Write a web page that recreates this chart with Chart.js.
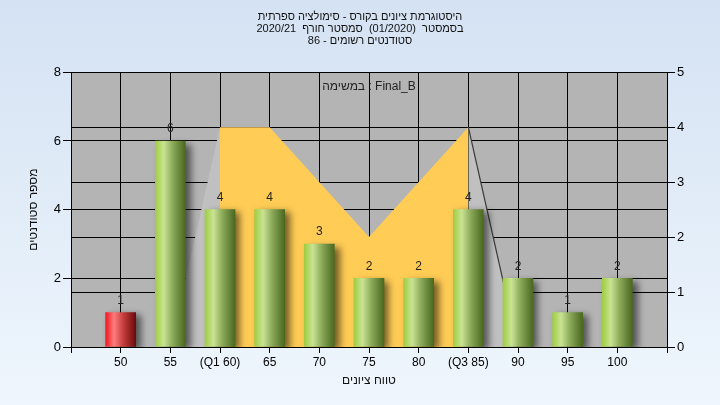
<!DOCTYPE html>
<html>
<head>
<meta charset="utf-8">
<script src="https://cdn.jsdelivr.net/npm/chart.js@4"></script>
<style>
    html, body { margin: 0; padding: 0; background: #e4eef9; }
    #wrap { width: 720px; height: 405px; }
</style>
</head>
<body>
<div id="wrap"><canvas id="mainChart" width="720" height="405"></canvas></div>
<script>
/**
 * Grade histogram - bars with quartile band behind them
 */

// score buckets and their tick labels
const scores = [50, 55, 60, 65, 70, 75, 80, 85, 90, 95, 100];
const scoreLabels = ['50', '55', '(Q1 60)', '65', '70', '75', '80', '(Q3 85)', '90', '95', '100'];

// number of students per bucket (left axis)
const studentCounts = [1, 6, 4, 4, 3, 2, 2, 4, 2, 1, 2];

// yellow band between Q1 and Q3 (right axis)
const bandScores = [60, 65, 75, 85];
const bandValues = [4, 4, 2, 4];

// light tails on both sides of the band (right axis)
const leftTailScores = [55, 60];
const leftTailValues = [0, 4];
const rightTailScores = [85, 90];
const rightTailValues = [4, 0];

const titleLines = [
    'היסטוגרמת ציונים בקורס - סימולציה ספרתית',
    'בסמסטר  (01/2020)  סמסטר חורף  2020/21',
    'סטודנטים רשומים - 86'
];
const taskCaption = 'במשימה : Final_B';
const xTitle = 'טווח ציונים';
const yTitle = 'מספר סטודנטים';

const FONT = "'Liberation Sans', Arial, sans-serif";

function barFill(context) {
    const chart = context.chart;
    if (!chart.chartArea || context.type !== 'data') return '#9c4';
    const x = chart.scales.x.getPixelForValue(context.raw.x);
    const g = chart.ctx.createLinearGradient(x - 15, 0, x + 15, 0);
    if (context.dataIndex === 0) {
        g.addColorStop(0, '#ee1a20');
        g.addColorStop(0.28, '#ff7c7c');
        g.addColorStop(0.6, '#c23a3a');
        g.addColorStop(1, '#6a0b0b');
    } else {
        g.addColorStop(0, '#9fcd42');
        g.addColorStop(0.28, '#c9e393');
        g.addColorStop(0.6, '#87a656');
        g.addColorStop(1, '#4a681f');
    }
    return g;
}

function toPoints(xs, ys) {
    return ys.map((v, i) => ({ x: xs[i], y: v }));
}

const backgroundPlugin = {
    id: 'background',
    beforeDraw(chart) {
        const { ctx, width, height, chartArea } = chart;
        ctx.save();
        const g = ctx.createLinearGradient(0, 0, 0, height);
        g.addColorStop(0, '#d4e2f3');
        g.addColorStop(1, '#eff6fd');
        ctx.fillStyle = g;
        ctx.fillRect(0, 0, width, height);
        ctx.fillStyle = '#b4b4b4';
        ctx.fillRect(chartArea.left, chartArea.top,
            chartArea.right - chartArea.left, chartArea.bottom - chartArea.top);
        ctx.restore();
    }
};

// soft drop shadow under the bars
const shadowPlugin = {
    id: 'barShadow',
    beforeDatasetDraw(chart, args) {
        if (args.index !== 0) return;
        const ctx = chart.ctx;
        ctx.save();
        ctx.shadowColor = 'rgba(0, 0, 0, 0.55)';
        ctx.shadowBlur = 7;
        ctx.shadowOffsetX = 5;
        ctx.shadowOffsetY = 3;
    },
    afterDatasetDraw(chart, args) {
        if (args.index !== 0) return;
        chart.ctx.restore();
    }
};

// value on top of each bar + task caption inside the plot
const labelsPlugin = {
    id: 'valueLabels',
    afterDatasetsDraw(chart) {
        const ctx = chart.ctx;
        const meta = chart.getDatasetMeta(0);
        ctx.save();
        ctx.font = '12px ' + FONT;
        ctx.fillStyle = '#222';
        ctx.textAlign = 'center';
        ctx.textBaseline = 'middle';
        meta.data.forEach((bar, i) => {
            ctx.fillText(String(studentCounts[i]), bar.x, bar.y - 12);
        });
        const area = chart.chartArea;
        ctx.fillText(taskCaption, (area.left + area.right) / 2, area.top + 14);
        ctx.restore();
    }
};

const ctx = document.getElementById('mainChart').getContext('2d');

new Chart(ctx, {
    type: 'bar',
    data: {
        datasets: [
            {
                type: 'bar',
                data: toPoints(scores, studentCounts),
                yAxisID: 'y',
                backgroundColor: barFill,
                borderWidth: 0,
                barThickness: 30,
                order: 0
            },
            {
                type: 'line',
                data: toPoints(bandScores, bandValues),
                yAxisID: 'y1',
                backgroundColor: '#ffcc55',
                borderWidth: 0,
                pointRadius: 0,
                fill: 'origin',
                tension: 0,
                order: 1
            },
            {
                type: 'line',
                data: toPoints(leftTailScores, leftTailValues),
                yAxisID: 'y1',
                backgroundColor: '#c0c0c0',
                borderWidth: 0,
                pointRadius: 0,
                fill: 'origin',
                tension: 0,
                order: 2
            },
            {
                type: 'line',
                data: toPoints(rightTailScores, rightTailValues),
                yAxisID: 'y1',
                backgroundColor: '#c0c0c0',
                borderColor: '#3a3a3a',
                borderWidth: 1.2,
                pointRadius: 0,
                fill: 'origin',
                tension: 0,
                order: 2
            }
        ]
    },
    options: {
        responsive: false,
        animation: false,
        devicePixelRatio: 1,
        layout: { padding: 0 },
        plugins: {
            legend: { display: false },
            tooltip: { enabled: false },
            title: {
                display: true,
                text: titleLines,
                color: '#111',
                font: { family: FONT, size: 11, weight: 'normal', lineHeight: 1.1 },
                padding: { top: 11, bottom: 25 }
            }
        },
        scales: {
            x: {
                type: 'linear',
                min: 45,
                max: 105,
                offset: false,
                afterFit: s => { s.height = 58; },
                ticks: {
                    stepSize: 5,
                    autoSkip: false,
                    maxRotation: 0,
                    padding: 2,
                    color: '#000',
                    font: { family: FONT, size: 12 },
                    callback: v => {
                        const i = scores.indexOf(v);
                        return i >= 0 ? scoreLabels[i] : '';
                    }
                },
                grid: { color: '#000', tickLength: 6, offset: false },
                border: { color: '#000' },
                title: {
                    display: true,
                    text: xTitle,
                    color: '#111',
                    font: { family: FONT, size: 12 },
                    padding: { top: 0, bottom: 17 }
                }
            },
            y: {
                position: 'left',
                min: 0,
                max: 8,
                afterFit: s => { s.width = 71; },
                ticks: {
                    stepSize: 2,
                    padding: 2,
                    color: '#000',
                    font: { family: FONT, size: 13 }
                },
                grid: { color: '#000', tickLength: 8 },
                border: { color: '#000' },
                title: {
                    display: true,
                    text: yTitle,
                    color: '#111',
                    font: { family: FONT, size: 12 },
                    padding: { top: 26, bottom: 0 }
                }
            },
            y1: {
                position: 'right',
                min: 0,
                max: 5,
                afterFit: s => { s.width = 53; },
                ticks: {
                    stepSize: 1,
                    padding: 2,
                    color: '#000',
                    font: { family: FONT, size: 13 }
                },
                grid: { color: '#000', tickLength: 8 },
                border: { color: '#000' }
            }
        }
    },
    plugins: [backgroundPlugin, shadowPlugin, labelsPlugin]
});
</script>
</body>
</html>
